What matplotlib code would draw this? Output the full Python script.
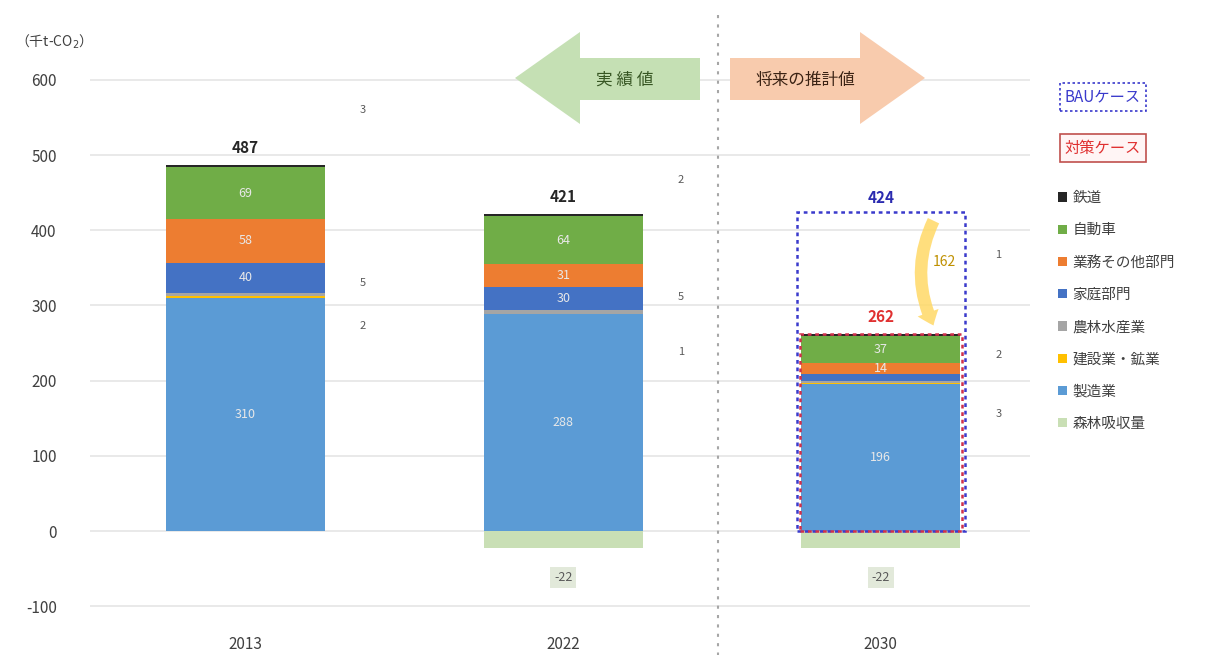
import matplotlib
matplotlib.use('Agg')
import matplotlib.pyplot as plt
import numpy as np
from matplotlib.patches import Rectangle, Polygon
from matplotlib.lines import Line2D

plt.rcParams['font.family'] = ['Noto Sans CJK JP', 'DejaVu Sans']
plt.rcParams['axes.unicode_minus'] = False

# ===== データ =====
years = ['2013', '2022', '2030']
sectors = ['製造業', '建設業・鉱業', '農林水産業', '家庭部門', '業務その他部門', '自動車', '鉄道']
colors = ['#5B9BD5', '#FFC000', '#A5A5A5', '#4472C4', '#ED7D31', '#70AD47', '#262626']
values = {
    '製造業':         [310, 288, 196],
    '建設業・鉱業':   [2, 1, 1],
    '農林水産業':     [5, 5, 3],
    '家庭部門':       [40, 30, 9],
    '業務その他部門': [58, 31, 14],
    '自動車':         [69, 64, 37],
    '鉄道':           [3, 2, 2],
}
forest = [0, -22, -22]          # 森林吸収量
forest_color = '#C9DFB5'
totals = [487, 421, 262]
bau_total = 424
reduction = bau_total - totals[2]
in_bar = ['製造業', '家庭部門', '業務その他部門', '自動車']   # 棒の中に数値を表示

# ===== 図 =====
W, H = 1211, 657
fig = plt.figure(figsize=(W / 100, H / 100), dpi=100)
ax = fig.add_axes([90 / W, 1 - 625 / H, 940 / W, 585 / H])

x = np.arange(len(years))
width = 0.5
bottom = np.zeros(len(years))
for s, c in zip(sectors, colors):
    v = np.array(values[s], dtype=float)
    ax.bar(x, v, width, bottom=bottom, color=c, edgecolor='none', zorder=3)
    if s in in_bar:
        for i in range(len(years)):
            if v[i] >= 10:
                ax.text(x[i], bottom[i] + v[i] / 2, f'{v[i]:.0f}', ha='center', va='center',
                        fontsize=9, color='#E8E8E8', zorder=5)
    bottom += v
ax.bar(x, forest, width, color=forest_color, edgecolor='none', zorder=3)

# 合計値
ax.text(x[0], totals[0] + 12, f'{totals[0]}', ha='center', va='bottom', fontsize=11,
        fontweight='bold', color='#262626', zorder=6)
ax.text(x[1], totals[1] + 12, f'{totals[1]}', ha='center', va='bottom', fontsize=11,
        fontweight='bold', color='#262626', zorder=6)
ax.text(x[2], bau_total + 8, f'{bau_total}', ha='center', va='bottom', fontsize=11,
        fontweight='bold', color='#2B2BB0', zorder=6)
ax.text(x[2], totals[2] + 12, f'{totals[2]}', ha='center', va='bottom', fontsize=11,
        fontweight='bold', color='#E03030', zorder=6)

# 森林吸収量ラベル
for i in (1, 2):
    ax.text(x[i], forest[i] - 40, f'{forest[i]}', ha='center', va='center', fontsize=9,
            color='#595959', zorder=6,
            bbox=dict(boxstyle='square,pad=0.3', fc='#E2E9DA', ec='none'))

# 小さい値のラベル（棒の右）
side = [(0, 560, '3'), (0, 330, '5'), (0, 272, '2'),
        (1, 467, '2'), (1, 311, '5'), (1, 238, '1'),
        (2, 367, '1'), (2, 234, '2'), (2, 155, '3')]
for i, yv, t in side:
    ax.text(x[i] + 0.37, yv, t, ha='center', va='center', fontsize=8, color='#595959', zorder=6)

# BAU / 対策ケース 枠
ax.add_patch(Rectangle((x[2] - 0.265, 0), 0.53, bau_total, fill=False, ec='#3A3ACC',
                       ls=(0, (1.5, 1.5)), lw=1.8, zorder=7))
ax.add_patch(Rectangle((x[2] - 0.255, 0), 0.51, totals[2], fill=False, ec='#D0304A',
                       ls=(0, (1.5, 1.5)), lw=1.8, zorder=7))

# 削減量の矢印
ax.annotate('', xy=(x[2] + 0.17, totals[2] + 8), xytext=(x[2] + 0.17, bau_total - 8),
            arrowprops=dict(arrowstyle='simple,head_width=1.6,head_length=1.0,tail_width=0.9',
                            connectionstyle='arc3,rad=0.25', fc='#FFD966', ec='none', alpha=0.85),
            zorder=8)
ax.text(x[2] + 0.2, (bau_total + totals[2]) / 2 + 15, f'{reduction}', ha='center', va='center',
        fontsize=10, color='#BF9000', zorder=9)

# 軸
ax.set_xlim(-0.49, 2.47)
ax.set_ylim(-125, 653)
ax.set_yticks(np.arange(-100, 601, 100))
ax.set_xticks(x)
ax.set_xticklabels(years)
ax.tick_params(axis='both', length=0, labelsize=11, colors='#404040')
ax.tick_params(axis='x', pad=8)
ax.tick_params(axis='y', pad=24)
ax.grid(axis='y', color='#E5E5E5', lw=1.2, zorder=0)
for sp in ax.spines.values():
    sp.set_visible(False)

fig.text(15 / W, 1 - 42 / H, '（千t-CO$_2$）', fontsize=10, color='#404040', va='center')

# 区切り線
fig.add_artist(Line2D([718 / W, 718 / W], [1 - 15 / H, 1 - 655 / H], color='#A6A6A6',
                      lw=1.5, ls=(0, (1.5, 3))))

# 実績値 / 将来の推計値 矢印
def fig_poly(pts, color):
    pts = [(px / W, 1 - py / H) for px, py in pts]
    fig.add_artist(Polygon(pts, closed=True, transform=fig.transFigure, fc=color, ec='none'))

fig_poly([(515, 78), (580, 32), (580, 58), (700, 58), (700, 100), (580, 100), (580, 124)], '#C5E0B4')
fig_poly([(925, 78), (860, 32), (860, 58), (730, 58), (730, 100), (860, 100), (860, 124)], '#F8CBAD')
fig.text(625 / W, 1 - 80 / H, '実 績 値', fontsize=12, color='#375623', ha='center', va='center')
fig.text(805 / W, 1 - 80 / H, '将来の推計値', fontsize=12, color='#3B2314', ha='center', va='center')

# ケース凡例
fig.text(1103 / W, 1 - 97 / H, 'BAUケース', fontsize=11, color='#3A3ACC', ha='center', va='center',
         bbox=dict(boxstyle='square,pad=0.35', fc='white', ec='#3A3ACC', ls=(0, (1.5, 1.5)), lw=1.2))
fig.text(1103 / W, 1 - 148 / H, '対策ケース', fontsize=11, color='#E03030', ha='center', va='center',
         bbox=dict(boxstyle='square,pad=0.35', fc='#FFF5F5', ec='#C0504D', lw=1.2))

# 凡例
handles = [Rectangle((0, 0), 1, 1, fc=c) for c in colors[::-1]] + [Rectangle((0, 0), 1, 1, fc=forest_color)]
labels = sectors[::-1] + ['森林吸収量']
fig.legend(handles, labels, loc='upper left', bbox_to_anchor=(1045 / W, 1 - 178 / H),
           frameon=False, fontsize=10.5, handlelength=0.6, handleheight=0.6,
           handletextpad=0.4, labelspacing=1.25, labelcolor='#404040')

plt.savefig('out.png', dpi=100, facecolor='white')
